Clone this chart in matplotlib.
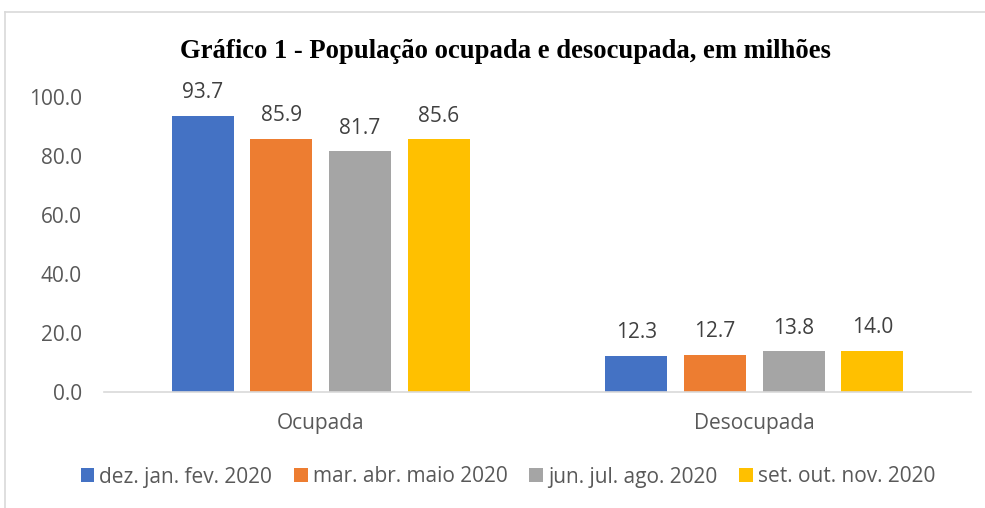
import matplotlib
matplotlib.use("Agg")
from matplotlib import pyplot as plt
from matplotlib.lines import Line2D
import numpy as np

categories = ["Ocupada", "Desocupada"]
series_names = ["dez. jan. fev. 2020", "mar. abr. maio 2020",
                "jun. jul. ago. 2020", "set. out. nov. 2020"]
values_dez = [93.7, 12.3]
values_mar = [85.9, 12.7]
values_jun = [81.7, 13.8]
values_set = [85.6, 14.0]
colors = ["#4472C4", "#ED7D31", "#A5A5A5", "#FFC000"]

txt = "#595959"
font = "Open Sans"
fs = 15

fig = plt.figure(figsize=(9.85, 5.08), dpi=100)
ax = fig.add_axes([104/985, 116/508, 867/985, 295/508])

x = np.arange(len(categories))
width = 0.143
step = 0.1815
all_vals = [values_dez, values_mar, values_jun, values_set]
for i, vals in enumerate(all_vals):
    pos = x + (i - 1.5) * step
    bars = ax.bar(pos, vals, width, color=colors[i], label=series_names[i], zorder=2)
    for b, v in zip(bars, vals):
        ax.annotate("%.1f" % v, (b.get_x() + b.get_width()/2, v),
                    xytext=(0, 12.5), textcoords="offset points",
                    ha="center", va="baseline", fontsize=fs, color="#404040",
                    family=font)

ax.set_xlim(-0.5, 1.5)
ax.set_ylim(0, 100)
ax.set_yticks(np.arange(0, 101, 20))
ax.set_yticklabels(["%.1f" % t for t in np.arange(0, 101, 20)], family=font,
                   fontsize=fs, color=txt)
ax.set_xticks(x)
ax.set_xticklabels(categories, family=font, fontsize=fs, color=txt)
ax.tick_params(axis="both", length=0)
ax.tick_params(axis="y", pad=16)
ax.tick_params(axis="x", pad=15)
for s in ["top", "right", "left"]:
    ax.spines[s].set_visible(False)
ax.spines["bottom"].set_color("#D9D9D9")
ax.spines["bottom"].set_linewidth(1.2)

fig.text(505/985, 1 - 51/508, "Gráfico 1 - População ocupada e desocupada, em milhões",
         ha="center", va="center", family="Liberation Serif", fontweight="bold",
         fontsize=19.2, color="black")

leg = fig.legend(loc="center", bbox_to_anchor=(508/985, 1 - 477/508), ncol=4,
                 frameon=False, prop={"family": font, "size": fs},
                 handlelength=0.65, handleheight=0.65, handletextpad=0.25,
                 columnspacing=1.05)
for t in leg.get_texts():
    t.set_color(txt)

# chart area border (left and top only visible)
fig.add_artist(Line2D([5/985, 5/985], [0, 1 - 12/508], color="#D9D9D9", lw=1.2,
                      transform=fig.transFigure))
fig.add_artist(Line2D([5/985, 1], [1 - 12/508, 1 - 12/508], color="#D9D9D9", lw=1.2,
                      transform=fig.transFigure))

fig.savefig("out.png", dpi=100)
